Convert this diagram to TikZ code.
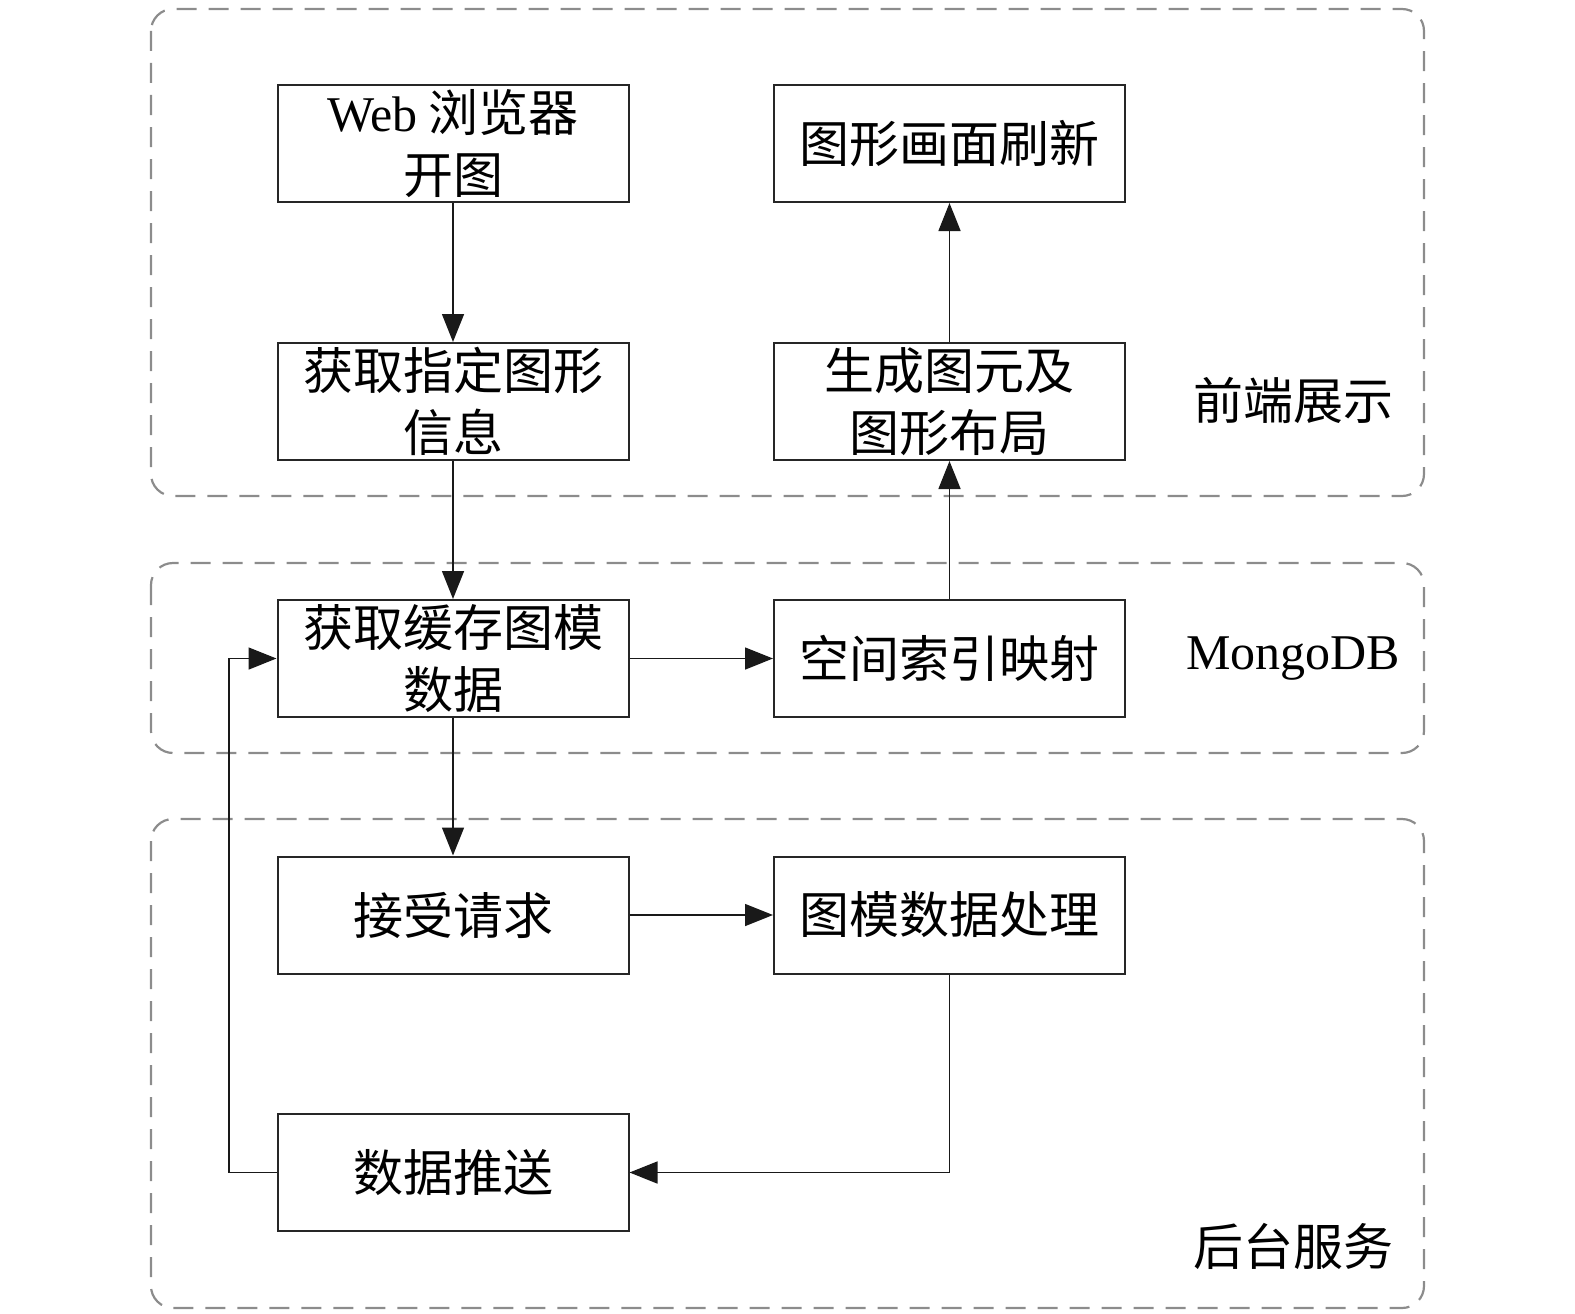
\documentclass[tikz,border=0pt]{standalone}
\usepackage{fontspec}
\setmainfont{Liberation Serif}
\newfontfamily\cjk{Noto Sans CJK SC}
\usetikzlibrary{arrows.meta}
\begin{document}
\begin{tikzpicture}[x=1pt,y=-1pt,
 box/.style={draw=black!85,line width=2pt,fill=white,minimum width=351pt,minimum height=117pt,inner sep=0pt,align=center,font=\fontsize{50}{62}\selectfont\cjk},
 grp/.style={draw=black!45,line width=2.2pt,dash pattern=on 20pt off 12pt,rounded corners=22pt},
 arr/.style={line width=1.5pt,draw=black!90,-{Triangle[length=28pt,width=22pt]}},
 lbl/.style={font=\fontsize{50}{62}\selectfont\cjk,anchor=center}]
\useasboundingbox (0,0) rectangle (1575,1314);
\draw[grp] (151,9) rectangle (1424,496);
\draw[grp] (151,563) rectangle (1424,753);
\draw[grp] (151,819) rectangle (1424,1308);

\node[box] (web) at (453,143.5) {{\rmfamily Web} 浏览器\\开图};
\node[box] (info) at (453,401.5) {获取指定图形\\信息};
\node[box] (cache) at (453,658.5) {获取缓存图模\\数据};
\node[box] (req) at (453,915) {接受请求};
\node[box] (push) at (453,1172.5) {数据推送};
\node[box] (refresh) at (949.5,143.5) {图形画面刷新};
\node[box] (gen) at (949.5,401.5) {生成图元及\\图形布局};
\node[box] (idx) at (949.5,658.5) {空间索引映射};
\node[box] (proc) at (949.5,915) {图模数据处理};

\node[lbl] (l1) at (1293,400) {前端展示};
\node[font=\fontsize{50}{62}\selectfont] (l2) at (1293,659) {MongoDB};
\node[lbl] (l3) at (1293,1246) {后台服务};

\coordinate (lp) at (229,0);
\draw[arr] (web) -- (info);
\draw[arr] (info) -- (cache);
\draw[arr] (cache) -- (req);
\draw[arr] (cache) -- (idx);
\draw[arr] (idx) -- (gen);
\draw[arr] (gen) -- (refresh);
\draw[arr] (req) -- (proc);
\draw[arr] (proc.south) |- (push.east);
\draw[arr] (push.west) -- (push.west -| lp) -- (cache.west -| lp) -- (cache.west);
\end{tikzpicture}
\end{document}
